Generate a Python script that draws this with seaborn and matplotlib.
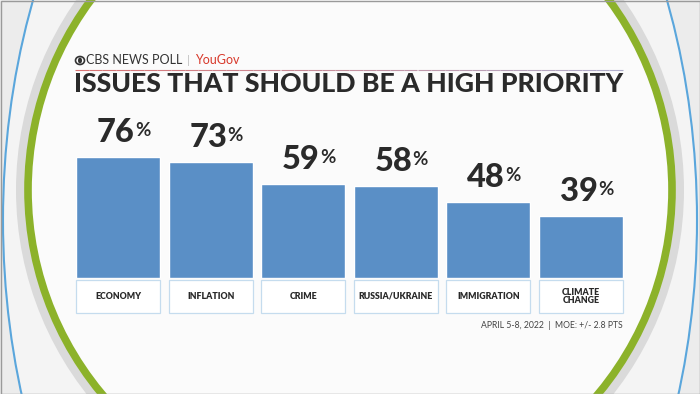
import matplotlib
matplotlib.use("Agg")
import matplotlib.pyplot as plt
from matplotlib.patches import Ellipse, Rectangle
import seaborn as sns

# dati
categorie = ["ECONOMY", "INFLATION", "CRIME", "RUSSIA/UKRAINE", "IMMIGRATION", "CLIMATE\nCHANGE"]
valori = [76, 73, 59, 58, 48, 39]
titolo = "ISSUES THAT SHOULD BE A HIGH PRIORITY"
fonte = "CBS NEWS POLL"
partner = "YouGov"
nota = "APRIL 5-8, 2022  |  MOE: +/- 2.8 PTS"

W, H = 700, 394
BLU = "#5a8fc6"
TESTO = "#2a2a2a"
FONT = "Lato"


def px(x, y):
    return x / W, 1 - y / H


sns.set_theme(style="white")
plt.rcParams["font.family"] = [FONT, "DejaVu Sans"]

fig = plt.figure(figsize=(7, 3.94), dpi=100)
fig.patch.set_facecolor("#ececec")

# sfondo: anelli del set televisivo
sfondo = fig.add_axes([0, 0, 1, 1], zorder=0)
sfondo.set_xlim(0, W)
sfondo.set_ylim(H, 0)
sfondo.axis("off")
sfondo.add_patch(Ellipse((350, 220), 694, 1080, facecolor="#f4f4f4", edgecolor="#5aa6dc", lw=1.5))
sfondo.add_patch(Ellipse((350, 190), 668, 664, facecolor="#dadada", edgecolor="none"))
sfondo.add_patch(Ellipse((350, 190), 644, 640, facecolor="#fbfbfb", edgecolor="#8cb22a", lw=5.5))
sfondo.add_patch(Rectangle((0.5, 0.5), W - 1, H - 1, fill=False, edgecolor="#9a9a9a", lw=1))

# intestazione
sfondo.add_patch(Ellipse((80, 60.5), 9, 8, facecolor="none", edgecolor="#333333", lw=1.2))
sfondo.add_patch(Ellipse((80, 60.5), 4, 6, facecolor="#333333", edgecolor="none"))
fig.text(*px(85.5, 60.5), fonte, fontsize=9, color="#333333", va="center", ha="left")
fig.text(*px(187, 60.5), "|", fontsize=8, color="#bbbbbb", va="center", ha="left")
fig.text(*px(195, 60.5), partner, fontsize=9, color="#d8392b", va="center", ha="left")
for i in range(40):
    x0 = 75 + i * (548 / 40)
    c = (0.85 - i * 0.004, 0.45 + i * 0.006, 0.45 + i * 0.009)
    sfondo.plot([x0, x0 + 548 / 40], [70, 70], color=c, lw=0.8, solid_capstyle="butt")

fig.text(*px(74, 84), titolo, fontsize=19.2, fontweight="black", color=TESTO,
         va="center", ha="left")

# grafico a barre
sinistra, destra = 71.7, 627.3
alto, basso = 119, 278
ax = fig.add_axes([sinistra / W, 1 - basso / H, (destra - sinistra) / W, (basso - alto) / H], zorder=2)
ax.patch.set_alpha(0)
sns.barplot(x=categorie, y=valori, color=BLU, saturation=1, width=0.907, ax=ax)
ax.set_ylim(0, 100)
ax.set_xlim(-0.5, len(categorie) - 0.5)
sns.despine(ax=ax, left=True, bottom=True)
ax.set_axisbelow(False)
ax.set_yticks([])
ax.set_xlabel("")
ax.set_ylabel("")

# etichette dei valori
for i, v in enumerate(valori):
    ax.annotate(str(v), xy=(i, v), xytext=(12, 7), textcoords="offset points",
                ha="right", va="bottom", fontsize=23.5, fontweight="black", color=TESTO)
    ax.annotate("%", xy=(i, v), xytext=(12.2, 25), textcoords="offset points",
                ha="left", va="top", fontsize=13.5, fontweight="bold", color=TESTO)

# caselle delle categorie
altezza_px = basso - alto
for i in range(len(categorie)):
    ax.add_patch(Rectangle((i - 0.907 / 2, -35 / altezza_px), 0.907, 33 / altezza_px,
                           transform=ax.get_xaxis_transform(), facecolor="white",
                           edgecolor="#c5dcee", lw=0.9, clip_on=False, zorder=0.5))
ax.tick_params(axis="x", length=0, pad=13.3)
for lab in ax.get_xticklabels():
    lab.set_fontsize(6.3)
    lab.set_fontweight("heavy")
    lab.set_color(TESTO)
    lab.set_va("center")
    lab.set_linespacing(0.95)

fig.text(*px(623, 325), nota, fontsize=6.2, color="#444444", va="center", ha="right")

fig.savefig("out.png", dpi=100)
